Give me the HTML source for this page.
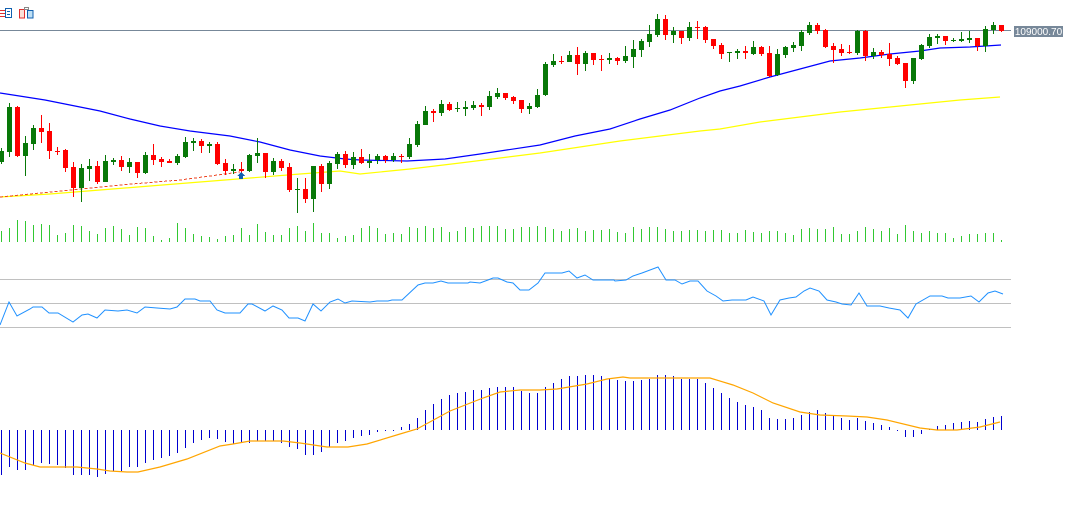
<!DOCTYPE html>
<html><head><meta charset="utf-8"><style>
html,body{margin:0;padding:0;background:#fff;width:1071px;height:508px;overflow:hidden}
svg{display:block}
</style></head><body>
<svg id="s" width="1071" height="508" viewBox="0 0 1071 508" xmlns="http://www.w3.org/2000/svg" shape-rendering="crispEdges">
<rect width="1071" height="508" fill="#fff"/>
<g fill="none" stroke-width="1">
<rect x="5.5" y="8.5" width="6" height="9" stroke="#1060b0"/>
<line x1="0" y1="10.5" x2="5" y2="10.5" stroke="#e03030"/><line x1="0" y1="13.5" x2="5" y2="13.5" stroke="#e03030"/><line x1="0" y1="16.5" x2="5" y2="16.5" stroke="#e03030"/>
<line x1="7" y1="11.5" x2="10" y2="11.5" stroke="#1060b0"/><line x1="7" y1="14.5" x2="10" y2="14.5" stroke="#1060b0"/>
<path d="M19.5 9.5h5v8.5h-5z" stroke="#e03030" fill="#fbe0d8"/>
<path d="M27.5 10.5h5.5v7.5h-5.5z" stroke="#1060b0" fill="#bfe0f5"/>
<rect x="24.5" y="7.5" width="4" height="2" stroke="#888"/>
</g>
<line x1="0" y1="30.5" x2="1011" y2="30.5" stroke="#778899"/>
<rect x="1014" y="26" width="49" height="11" fill="#778899"/>
<text x="1038.5" y="35" font-family="Liberation Sans, sans-serif" font-size="10" fill="#fff" text-anchor="middle">109000.70</text>
<line x1="0" y1="279.5" x2="1011" y2="279.5" stroke="#c0c0c0"/>
<line x1="0" y1="303.5" x2="1011" y2="303.5" stroke="#c0c0c0"/>
<line x1="0" y1="327.5" x2="1011" y2="327.5" stroke="#c0c0c0"/>
<g id="g"></g>
</svg>
<script>
var C=[[151,162,148,164,'g'],[107,152,103,157,'g'],[107,156,106,157,'r'],[143,156,136,176,'g'],[128,144,125,150,'g'],[128,132,115,143,'r'],[131,151,123,159,'r'],[151,152,147,155,'r'],[150,168,149,172,'r'],[167,188,162,197,'r'],[168,188,164,202,'g'],[166,169,159,181,'g'],[166,182,161,184,'r'],[161,182,155,182,'g'],[160,162,158,165,'g'],[160,167,156,171,'r'],[162,167,158,173,'g'],[162,173,162,178,'r'],[155,173,152,174,'g'],[155,160,144,165,'r'],[159,162,157,167,'r'],[161,163,159,163,'r'],[156,163,154,165,'g'],[142,157,137,158,'g'],[141,143,138,151,'g'],[141,146,139,153,'r'],[144,146,142,153,'g'],[144,164,142,165,'r'],[163,171,159,175,'r'],[169,171,164,174,'g'],[169,171,162,174,'r'],[155,171,154,172,'g'],[153,156,138,163,'g'],[153,172,153,178,'r'],[161,172,158,175,'g'],[161,168,159,171,'r'],[167,190,163,192,'r'],[189,190,178,213,'g'],[189,199,178,203,'r'],[166,199,166,212,'g'],[166,184,164,192,'r'],[163,184,161,189,'g'],[154,164,152,169,'g'],[154,165,151,168,'r'],[157,165,152,169,'g'],
[157,163,149,164,'r'],[161,163,154,168,'g'],[156,160,154,164,'g'],[156,160,155,163,'r'],[156,160,153,162,'g'],[156,157,154,163,'r'],[144,157,138,159,'g'],[124,145,121,147,'g'],[111,125,106,125,'g'],[111,113,109,122,'r'],[104,113,100,116,'g'],[104,110,102,111,'r'],[108,109,102,112,'g'],[107,109,101,116,'g'],[105,108,101,110,'g'],[105,107,103,116,'r'],[96,107,91,110,'g'],[93,97,88,99,'g'],[93,98,93,100,'r'],[97,101,96,104,'r'],[100,109,100,113,'r'],[106,109,103,114,'g'],[95,107,89,108,'g'],[64,95,62,96,'g'],[61,65,54,67,'g'],[61,62,56,64,'r'],[55,62,51,62,'g'],[55,64,47,75,'r'],[53,64,51,71,'g'],[53,60,53,65,'r'],[59,60,55,71,'r'],[58,60,53,64,'g'],[58,61,57,65,'r'],[56,61,46,63,'g'],[49,57,40,68,'g'],[41,50,39,57,'g'],[34,42,25,47,'g'],[19,35,14,37,'g'],[19,35,15,40,'r'],[31,35,27,43,'g'],[31,38,31,44,'r'],[27,38,22,41,'g'],[27,28,21,39,'r'],[27,40,26,43,'r'],[39,46,39,49,'r'],
[45,54,43,59,'r'],[52,53,52,62,'g'],[51,53,49,59,'g'],[51,53,46,59,'r'],[47,54,41,55,'g'],[47,54,46,56,'r'],[53,76,46,77,'r'],[54,75,49,76,'g'],[47,55,46,58,'g'],[45,48,42,52,'g'],[32,46,30,51,'g'],[25,33,22,35,'g'],[25,31,23,34,'r'],[30,47,29,48,'r'],[46,50,43,63,'r'],[49,53,44,56,'r'],[52,53,45,54,'r'],[31,53,30,55,'g'],[31,56,30,61,'r'],[52,56,48,59,'g'],[52,55,50,58,'r'],[54,59,43,66,'r'],[58,64,56,65,'r'],[63,81,63,88,'r'],[58,81,58,84,'g'],[45,59,44,60,'g'],[37,46,34,48,'g'],[36,38,34,44,'g'],[36,41,36,45,'r'],[40,41,38,42,'g'],[39,41,32,42,'g'],[38,40,31,43,'g'],[38,46,38,51,'r'],[29,46,26,52,'g'],[25,30,22,34,'g'],[25,31,25,32,'r']];
var VT=[693,684,660,663,675,672,675,705,699,675,678,693,702,684,678,687,705,681,684,708,720,714,669,684,702,708,711,717,708,705,684,705,672,696,705,705,684,678,693,669,699,699,714,708,705,
684,678,684,702,699,702,681,684,678,684,681,696,693,681,684,678,678,678,687,687,681,681,678,681,687,693,687,684,693,690,690,687,696,699,681,687,681,681,687,693,693,690,690,693,690,
690,699,699,690,696,699,693,693,699,705,687,684,687,687,681,702,702,693,681,687,693,684,702,675,693,699,693,699,699,714,708,702,702,699,699,720];
var MH=[475,467,470,470,465,463,464,465,468,475,475,475,477,474,471,471,467,467,463,460,458,456,453,448,443,440,438,439,442,444,443,443,441,441,441,443,447,449,455,455,452,447,443,441,438,436,435,432,431,430,427,424,418,410,404,399,395,393,392,390,390,388,387,387,387,391,393,393,387,383,379,376,376,375,375,376,379,380,381,381,380,379,375,375,376,379,379,379,383,388,393,398,402,405,407,410,418,419,419,418,415,412,410,413,416,418,420,418,421,423,425,427,430,437,437,434,429,426,425,423,422,421,422,419,417,416];
var h='';
for(var i=0;i<VT.length;i++){var t=Math.round(VT[i]/3);h+='<rect x="'+(8*i+1)+'" y="'+t+'" width="1" height="'+(242-t)+'" fill="#32c832"/>';}
for(var i=0;i<MH.length;i++){var y=MH[i];var a=Math.min(y,430),b=Math.max(y,430);if(b-a<1){b=a+1;}h+='<rect x="'+(8*i+1)+'" y="'+a+'" width="1" height="'+(b-a)+'" fill="#0000d0"/>';}
function pl(p,c,w,extra){return '<polyline fill="none" stroke="'+c+'" stroke-width="'+w+'" '+(extra||'')+' points="'+p+'"/>';}
h+=pl('0,197 50,194 100,190 150,186 200,182 250,178 300,174 340,171 360,174 410,169 460,163 500,158 540,153 580,147 620,141 660,136 700,131 720,129 760,122 800,117 840,112 880,108 920,104 960,100 1000,97','#ffff00',1.2,'shape-rendering="auto"');
h+=pl('0,197 60,191 120,185 180,180 240,172','#ee4422',1,'stroke-dasharray="3,2"');
h+=pl('0,93 13,95 45,100 65,104 100,111 130,119 160,126 190,131 230,136 260,142 290,150 320,156 345,159 360,160 407,161 445,159 480,154 540,145 575,136 610,129 640,119 670,110 700,98 720,91 740,86 770,77 800,69 830,61 860,58 890,54 920,51 940,48 970,47 1001,45','#0000ff',1.2,'shape-rendering="auto"');
for(var i=0;i<C.length;i++){var c=C[i],col=c[4]=='g'?'#087808':'#ff0000';
h+='<rect x="'+(8*i+1)+'" y="'+c[2]+'" width="1" height="'+(c[3]-c[2])+'" fill="'+col+'"/>';
var bh=Math.max(1,c[1]-c[0]);h+='<rect x="'+(8*i-1)+'" y="'+c[0]+'" width="5" height="'+bh+'" fill="'+col+'"/>';}
h+='<path d="M241 172 L245 176 L243 176 L243 179 L239 179 L239 176 L237 176 Z" fill="#1060b0"/>';
h+=pl('0,325 9,302 17,316 30,309 33,307 42,307 49,313 58,313 73,322 82,315 88,314 97,318 105,310 118,311 127,310 137,313 145,307 157,308 170,309 177,307 185,299 195,299 200,301 210,301 217,310 225,313 240,313 248,304 252,304 265,311 273,306 282,310 289,318 298,318 305,321 313,304 321,311 330,302 338,299 345,303 352,301 370,302 377,301 388,301 392,300 402,300 418,285 425,283 433,283 441,281 448,283 468,283 470,282 480,283 488,280 493,278 498,278 507,282 513,283 520,290 529,290 538,283 545,273 562,273 569,271 577,278 585,275 593,280 614,280 615,281 626,280 633,276 642,273 658,267 666,280 675,280 682,284 690,281 698,281 707,291 716,296 723,301 732,300 743,300 746,300 753,297 764,301 771,315 780,300 789,298 796,297 804,291 810,288 819,291 827,300 836,302 842,304 851,305 859,293 867,306 880,306 889,308 900,310 908,318 916,304 930,296 942,296 948,298 960,298 971,296 979,302 988,293 995,291 1003,294','#1e90ff',1,'shape-rendering="auto"');
h+=pl('0,453 25,463 40,467 77,467 97,469 110,471 127,472 138,472 160,467 187,459 220,446 233,444 250,441 283,441 300,443 327,447 348,447 367,444 400,434 417,429 450,411 483,398 500,392 520,390 540,390 557,389 587,384 607,379 623,377 630,378 710,378 733,385 753,393 773,403 800,412 820,415 847,416 867,417 887,420 920,428 937,430 957,430 980,427 1000,422','#ffa500',1.2,'shape-rendering="auto"');
document.getElementById('g').innerHTML=h;
</script>
</body></html>
